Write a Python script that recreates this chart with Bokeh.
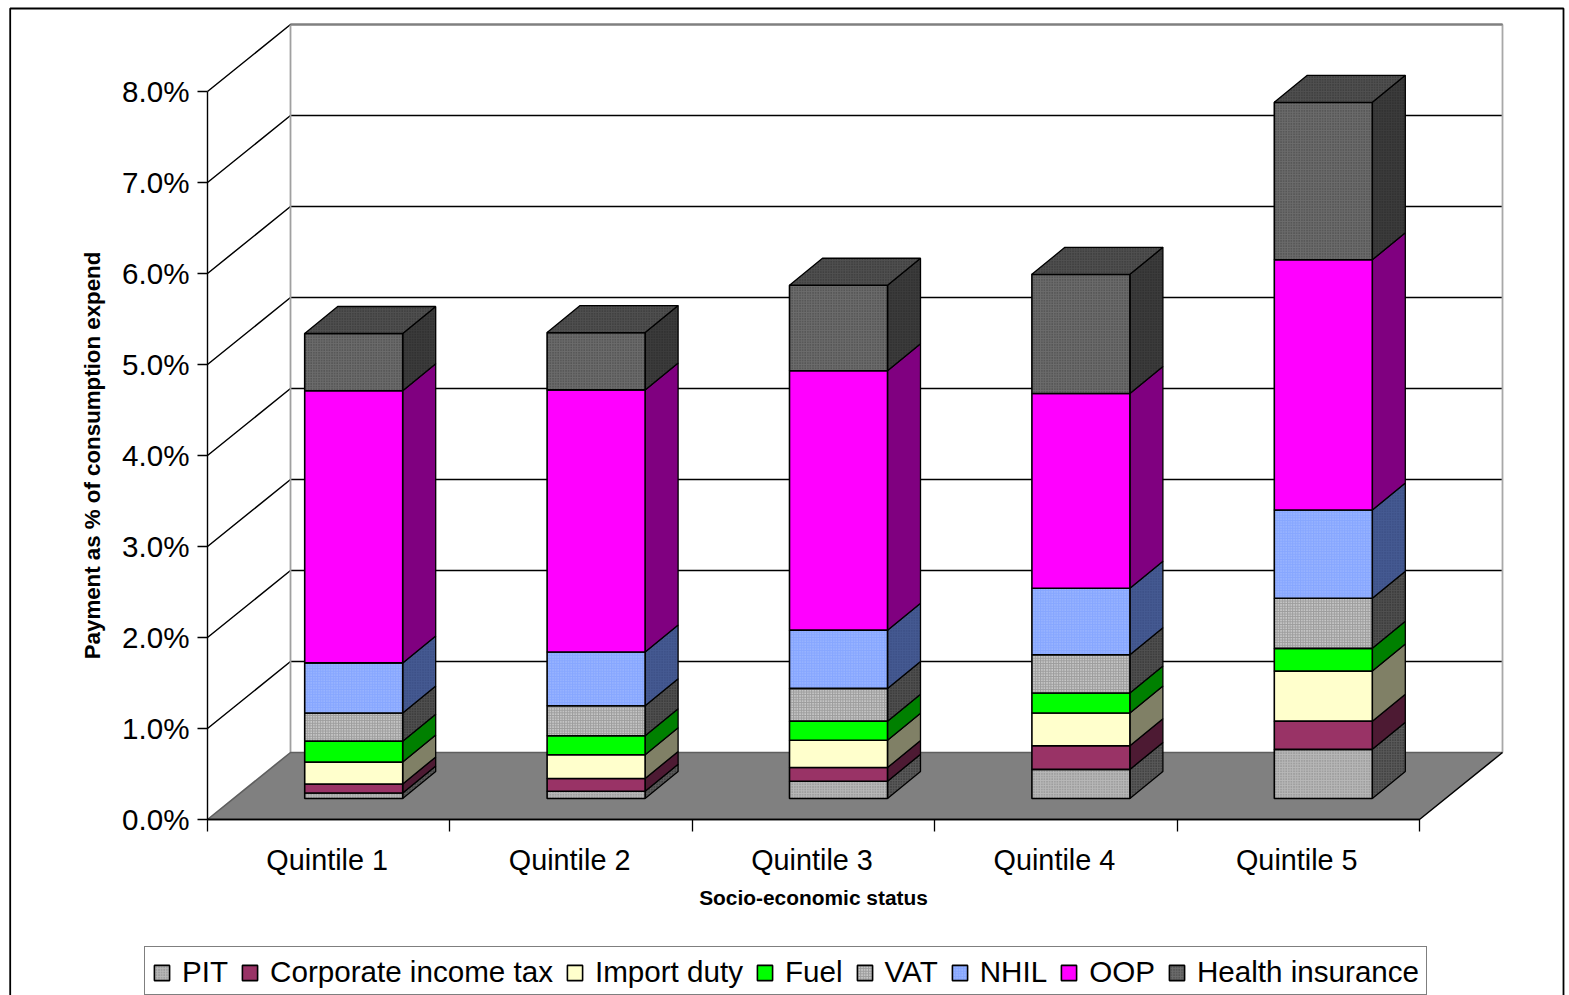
from bokeh.embed import file_html
from bokeh.resources import INLINE
from bokeh.plotting import figure
from bokeh.models import Range1d, FixedTicker, Legend, LegendItem, NumeralTickFormatter

quintiles = ["Quintile 1", "Quintile 2", "Quintile 3", "Quintile 4", "Quintile 5"]
y_ticks = [0, 1, 2, 3, 4, 5, 6, 7, 8]

pit = [0.06, 0.08, 0.19, 0.32, 0.54]
corporate = [0.10, 0.14, 0.15, 0.26, 0.31]
import_duty = [0.24, 0.26, 0.30, 0.36, 0.55]
fuel = [0.23, 0.21, 0.21, 0.22, 0.25]
vat = [0.31, 0.33, 0.36, 0.42, 0.55]
nhil = [0.55, 0.59, 0.64, 0.73, 0.97]
oop = [2.99, 2.88, 2.85, 2.14, 2.75]
health_insurance = [0.63, 0.63, 0.94, 1.31, 1.73]

names = ["PIT", "Corporate income tax", "Import duty", "Fuel", "VAT", "NHIL", "OOP", "Health insurance"]
series = [pit, corporate, import_duty, fuel, vat, nhil, oop, health_insurance]
front = ["#b8b8b8", "#993366", "#ffffcc", "#00ff00", "#9c9c9c", "#86a6ff", "#ff00ff", "#6c6c6c"]
side = ["#5a5a5a", "#4d1a33", "#808066", "#008000", "#505050", "#455a92", "#800080", "#3c3c3c"]
hatch = ["#7a7a7a", None, None, None, "#ffffff", "#aec4ff", None, "#3a3a3a"]

# layout of the page, in pixels of the window
PX_CAT = 242.4
PX_PCT = 91.0
X0, Y0 = 207.0, 819.0
W, H = 1569, 995
DX, DY = 83 / PX_CAT, 67 / PX_PCT   # full depth of the floor, in data units
BAR_W = 98 / PX_CAT
FRONT_X, FRONT_Y = 25 / PX_CAT, 21 / PX_PCT  # front face of a bar, behind the front plane
DEPTH_X, DEPTH_Y = 33 / PX_CAT, 27 / PX_PCT  # depth of a bar
LABEL_NUDGE = 1.5 / PX_CAT


def px(x):
    return (x - X0) / PX_CAT


def py(y):
    return (Y0 - y) / PX_PCT


p = figure(width=W, height=H, output_backend="svg", toolbar_location=None,
           x_range=Range1d(px(0), px(W)), y_range=Range1d(py(H), py(0)),
           min_border=0, outline_line_color=None, background_fill_color="white", border_fill_color="white")
p.grid.visible = False

# outer chart frame (open at the bottom of the page)
p.line([px(9.7), px(9.7), px(1563), px(1563)], [py(1000), py(8), py(8), py(1000)],
       line_color="#000000", line_width=1.8)

n_cat = len(quintiles)

# back wall edges, floor, grid
p.patch([0, n_cat, n_cat + DX, DX], [0, 0, DY, DY], fill_color="#808080", line_color=None)
for v in y_ticks[1:]:
    p.line([0, DX, DX + n_cat], [v, v + DY, v + DY], line_color="#000000", line_width=1.5)
p.line([DX, DX], [DY, y_ticks[-1] + DY], line_color="#a0a0a0", line_width=1.8)
p.line([DX + n_cat, DX + n_cat], [DY, y_ticks[-1] + DY], line_color="#a8a8a8", line_width=1.8)
p.line([DX, DX + n_cat], [y_ticks[-1] + DY] * 2, line_color="#808080", line_width=1.8)
p.line([0, DX, DX + n_cat], [0, DY, DY], line_color="#5f5f5f", line_width=1.6)
p.line([0, n_cat, n_cat + DX], [0, 0, DY], line_color="#000000", line_width=1.5)

items = []
base = [0.0] * n_cat
for s, vals in enumerate(series):
    tops = [b + v for b, v in zip(base, vals)]
    lefts = [i + 0.5 + FRONT_X - BAR_W / 2 for i in range(n_cat)]
    rights = [l + BAR_W for l in lefts]
    sx = [[r, r + DEPTH_X, r + DEPTH_X, r] for r in rights]
    sy = [[b + FRONT_Y, b + FRONT_Y + DEPTH_Y, t + FRONT_Y + DEPTH_Y, t + FRONT_Y] for b, t in zip(base, tops)]
    kw = {}
    skw = {}
    if hatch[s]:
        kw = dict(hatch_pattern="dot", hatch_color=hatch[s], hatch_scale=2.6, hatch_weight=1)
        skw = dict(hatch_pattern="dot", hatch_color="#222222" if s != 5 else "#33447a", hatch_scale=2.6, hatch_weight=1)
    p.patches(sx, sy, fill_color=side[s], line_color="#000000", line_width=1.3, **skw)
    r = p.quad(left=lefts, right=rights, bottom=[b + FRONT_Y for b in base], top=[t + FRONT_Y for t in tops],
               fill_color=front[s], line_color="#000000", line_width=1.6, **kw)
    items.append(LegendItem(label=names[s], renderers=[r]))
    if s == len(series) - 1:
        tx = [[l, l + DEPTH_X, r2 + DEPTH_X, r2] for l, r2 in zip(lefts, rights)]
        ty = [[t + FRONT_Y, t + FRONT_Y + DEPTH_Y, t + FRONT_Y + DEPTH_Y, t + FRONT_Y] for t in tops]
        p.patches(tx, ty, fill_color="#505050", line_color="#000000", line_width=1.3,
                  hatch_pattern="dot", hatch_color="#2a2a2a", hatch_scale=2.6, hatch_weight=1)
    base = tops

FONT = "Liberation Sans"

yax = p.yaxis[0]
yax.fixed_location = 0
yax.bounds = (y_ticks[0], y_ticks[-1])
yax.ticker = FixedTicker(ticks=y_ticks)
yax.formatter = NumeralTickFormatter(format="0.0")
yax.major_label_overrides = {v: f"{v:.1f}%" for v in y_ticks}
yax.major_tick_out = 10
yax.major_tick_in = 0
yax.minor_tick_out = 0
yax.minor_tick_in = 0
yax.major_tick_line_color = "#000000"
yax.major_tick_line_width = 1.3
yax.axis_line_color = "#000000"
yax.axis_line_width = 1.4
yax.major_label_text_font = FONT
yax.major_label_text_font_size = "29.6px"
yax.major_label_text_color = "#000000"
yax.major_label_standoff = 8
yax.axis_label = "Payment as % of consumption expend"
yax.axis_label_text_font = FONT
yax.axis_label_text_font_size = "22.3px"
yax.axis_label_text_font_style = "bold"
yax.axis_label_text_color = "#000000"
yax.axis_label_standoff = 14

xax = p.xaxis[0]
xax.fixed_location = 0
xax.bounds = (0, n_cat)
centers = [i + 0.5 - LABEL_NUDGE for i in range(n_cat)]
xax.ticker = FixedTicker(ticks=centers, minor_ticks=list(range(n_cat + 1)))
xax.major_label_overrides = dict(zip(centers, quintiles))
xax.major_tick_out = 0
xax.major_tick_in = 0
xax.minor_tick_out = 12
xax.minor_tick_in = 0
xax.minor_tick_line_color = "#000000"
xax.minor_tick_line_width = 1.3
xax.axis_line_color = "#000000"
xax.axis_line_width = 1.5
xax.major_label_text_font = FONT
xax.major_label_text_font_size = "28.8px"
xax.major_label_text_color = "#000000"
xax.major_label_standoff = 12
xax.axis_label = "Socio-economic status"
xax.axis_label_text_font = FONT
xax.axis_label_text_font_size = "20.9px"
xax.axis_label_text_font_style = "bold"
xax.axis_label_text_color = "#000000"
xax.axis_label_standoff = 7

legend = Legend(items=items, orientation="horizontal", location=(144, H - 995),
                label_text_font=FONT, label_text_font_size="29.6px", label_text_color="#000000",
                glyph_width=19, glyph_height=19, label_standoff=11, spacing=12,
                padding=dict(left=7, right=7, top=8, bottom=5), margin=0,
                border_line_color="#000000", border_line_width=1.5, background_fill_color="white",
                background_fill_alpha=1, label_height=26)
p.add_layout(legend)

open("out.html", "w").write(file_html(p, INLINE))
